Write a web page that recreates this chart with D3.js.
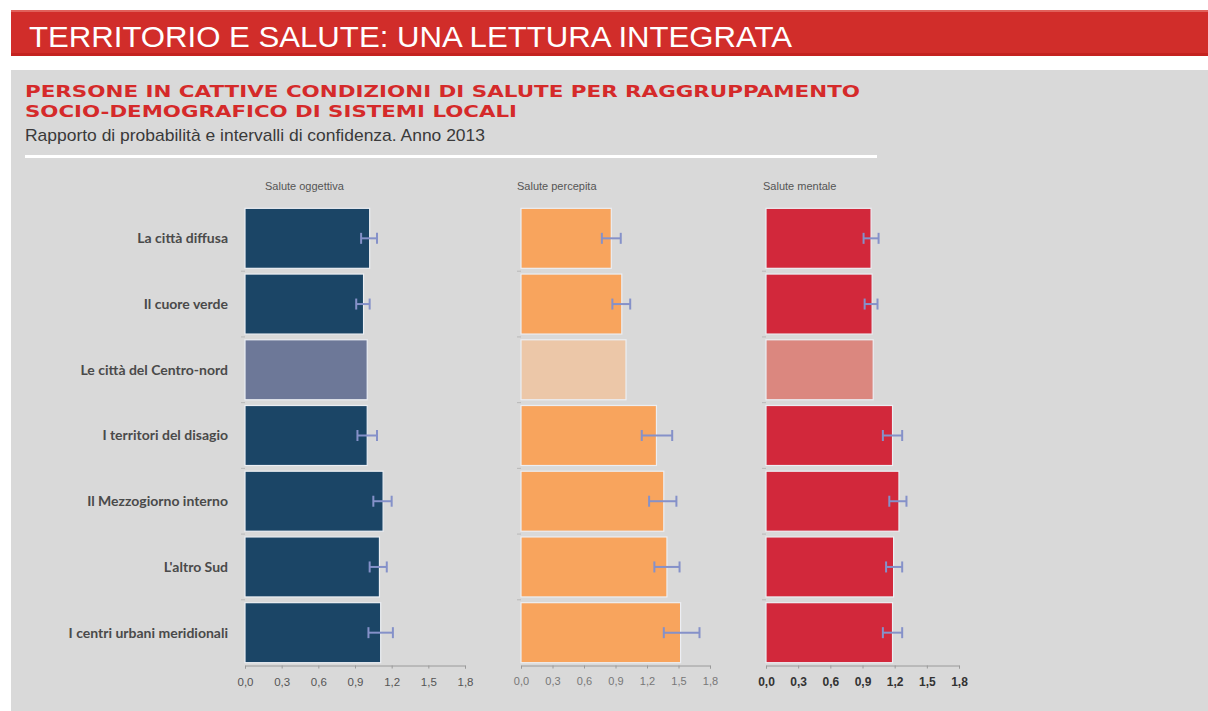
<!DOCTYPE html>
<html>
<head>
<meta charset="utf-8">
<script src="https://cdn.jsdelivr.net/npm/d3@7"></script>
<style>
  html, body { margin: 0; padding: 0; background: #ffffff; }
  svg { display: block; }
</style>
</head>
<body>
<svg id="chart" width="1208" height="711"></svg>
<script>
// ---------------- DATA ----------------
const categories = [
  "La città diffusa",
  "Il cuore verde",
  "Le città del Centro-nord",
  "I territori del disagio",
  "Il Mezzogiorno interno",
  "L'altro Sud",
  "I centri urbani meridionali"
];
const referenceIndex = 2; // "Le città del Centro-nord" = reference category (no interval)

const panelTitles = ["Salute oggettiva", "Salute percepita", "Salute mentale"];

const oggettiva     = [1.02, 0.97, 1.00, 1.00, 1.13, 1.10, 1.11];
const oggettivaLow  = [0.95, 0.91, null, 0.92, 1.05, 1.02, 1.01];
const oggettivaHigh = [1.08, 1.02, null, 1.08, 1.20, 1.16, 1.21];

const percepita     = [0.86, 0.96, 1.00, 1.29, 1.36, 1.39, 1.52];
const percepitaLow  = [0.77, 0.87, null, 1.15, 1.22, 1.27, 1.36];
const percepitaHigh = [0.95, 1.04, null, 1.44, 1.48, 1.51, 1.70];

const mentale       = [0.98, 0.99, 1.00, 1.18, 1.24, 1.19, 1.18];
const mentaleLow    = [0.91, 0.92, null, 1.09, 1.15, 1.12, 1.09];
const mentaleHigh   = [1.05, 1.04, null, 1.27, 1.31, 1.27, 1.27];

const tickValues = [0, 0.3, 0.6, 0.9, 1.2, 1.5, 1.8];

// ---------------- LAYOUT ----------------
const svg = d3.select("#chart");

// background areas
svg.append("rect").attr("x", 11).attr("y", 10).attr("width", 1197).attr("height", 46).attr("fill", "#d12d2a");
svg.append("rect").attr("x", 11).attr("y", 10).attr("width", 1197).attr("height", 2).attr("fill", "#e0605a");
svg.append("rect").attr("x", 11).attr("y", 53).attr("width", 1197).attr("height", 3).attr("fill", "#c4221f");
svg.append("rect").attr("x", 11).attr("y", 70).attr("width", 1197).attr("height", 641).attr("fill", "#d9d9d9");

svg.append("text")
  .attr("x", 29).attr("y", 46.5)
  .attr("textLength", 763).attr("lengthAdjust", "spacingAndGlyphs")
  .attr("font-family", "Liberation Sans, Arial, sans-serif")
  .attr("font-size", 30).attr("fill", "#ffffff")
  .text("TERRITORIO E SALUTE: UNA LETTURA INTEGRATA");

svg.append("text")
  .attr("x", 25).attr("y", 97)
  .attr("textLength", 835).attr("lengthAdjust", "spacingAndGlyphs")
  .attr("font-family", "DejaVu Sans, Liberation Sans, sans-serif").attr("font-weight", "bold")
  .attr("font-size", 16.5).attr("fill", "#d52a2a")
  .text("PERSONE IN CATTIVE CONDIZIONI DI SALUTE PER RAGGRUPPAMENTO");
svg.append("text")
  .attr("x", 25).attr("y", 116.5)
  .attr("textLength", 492).attr("lengthAdjust", "spacingAndGlyphs")
  .attr("font-family", "DejaVu Sans, Liberation Sans, sans-serif").attr("font-weight", "bold")
  .attr("font-size", 16.5).attr("fill", "#d52a2a")
  .text("SOCIO-DEMOGRAFICO DI SISTEMI LOCALI");
svg.append("text")
  .attr("x", 25).attr("y", 141)
  .attr("textLength", 460).attr("lengthAdjust", "spacingAndGlyphs")
  .attr("font-family", "Liberation Sans, Arial, sans-serif")
  .attr("font-size", 17).attr("fill", "#3a3a3a")
  .text("Rapporto di probabilità e intervalli di confidenza. Anno 2013");

svg.append("rect").attr("x", 25).attr("y", 155).attr("width", 852).attr("height", 3).attr("fill", "#ffffff");

// band scale
const y = d3.scaleBand()
  .domain(categories)
  .range([205.5, 665.5])
  .paddingInner(0.087)
  .paddingOuter(0.043);

// category labels
svg.append("g").selectAll("text")
  .data(categories).join("text")
  .attr("x", 228)
  .attr("y", d => y(d) + y.bandwidth() / 2)
  .attr("dy", "0.35em")
  .attr("text-anchor", "end")
  .attr("font-family", "Lato, 'Open Sans', sans-serif")
  .attr("font-weight", "bold")
  .attr("font-size", 14)
  .attr("fill", "#4a4a4a")
  .text(d => d);

// panels
const panels = [
  { title: panelTitles[0], values: oggettiva, low: oggettivaLow, high: oggettivaHigh,
    range: [245, 465], titleX: 265, color: "#1b4566", refColor: "#6d7898",
    tickColor: "#555555", tickWeight: "normal", tickSize: 11.5 },
  { title: panelTitles[1], values: percepita, low: percepitaLow, high: percepitaHigh,
    range: [521, 710], titleX: 517, color: "#f8a45d", refColor: "#ecc7a8",
    tickColor: "#777777", tickWeight: "normal", tickSize: 11 },
  { title: panelTitles[2], values: mentale, low: mentaleLow, high: mentaleHigh,
    range: [766, 959], titleX: 763, color: "#d2283b", refColor: "#db877f",
    tickColor: "#333333", tickWeight: "bold", tickSize: 12 }
];

const fmt = v => d3.format(".1f")(v).replace(".", ",");

panels.forEach(p => {
  const x = d3.scaleLinear().domain([0, 1.8]).range(p.range);
  const g = svg.append("g");

  g.append("text")
    .attr("x", p.titleX).attr("y", 190)
    .attr("font-family", "Liberation Sans, Arial, sans-serif")
    .attr("font-size", 11).attr("fill", "#555555")
    .text(p.title);

  // left small ticks at band boundaries
  g.selectAll("line.lt")
    .data(categories.slice(1)).join("line")
    .attr("class", "lt")
    .attr("x1", x(0) - 4).attr("x2", x(0))
    .attr("y1", d => y(d) - y.step() * y.paddingInner() / 2)
    .attr("y2", d => y(d) - y.step() * y.paddingInner() / 2)
    .attr("stroke", "#b8b8b8").attr("stroke-width", 1);

  // bars
  g.selectAll("rect.bar")
    .data(categories).join("rect")
    .attr("class", "bar")
    .attr("x", x(0))
    .attr("y", d => y(d))
    .attr("width", (d, i) => x(p.values[i]) - x(0))
    .attr("height", y.bandwidth())
    .attr("fill", (d, i) => i === referenceIndex ? p.refColor : p.color)
    .attr("stroke", "#eceef3").attr("stroke-width", 1.2);

  // error bars
  const eb = categories.map((c, i) => ({ c, lo: p.low[i], hi: p.high[i] })).filter(d => d.lo != null);
  const capH = 5.5;
  g.selectAll("line.eh").data(eb).join("line")
    .attr("class", "eh")
    .attr("x1", d => x(d.lo)).attr("x2", d => x(d.hi))
    .attr("y1", d => y(d.c) + y.bandwidth() / 2).attr("y2", d => y(d.c) + y.bandwidth() / 2)
    .attr("stroke", "#8591c9").attr("stroke-width", 2);
  g.selectAll("line.el").data(eb).join("line")
    .attr("class", "el")
    .attr("x1", d => x(d.lo)).attr("x2", d => x(d.lo))
    .attr("y1", d => y(d.c) + y.bandwidth() / 2 - capH).attr("y2", d => y(d.c) + y.bandwidth() / 2 + capH)
    .attr("stroke", "#8591c9").attr("stroke-width", 2);
  g.selectAll("line.eu").data(eb).join("line")
    .attr("class", "eu")
    .attr("x1", d => x(d.hi)).attr("x2", d => x(d.hi))
    .attr("y1", d => y(d.c) + y.bandwidth() / 2 - capH).attr("y2", d => y(d.c) + y.bandwidth() / 2 + capH)
    .attr("stroke", "#8591c9").attr("stroke-width", 2);

  // x axis
  const axis = d3.axisBottom(x).tickValues(tickValues).tickFormat(fmt).tickSize(3).tickPadding(9);
  const ag = g.append("g").attr("transform", `translate(0, 665.5)`).call(axis);
  ag.select(".domain").attr("stroke", "#9a9a9a");
  ag.selectAll(".tick line").attr("stroke", "#9a9a9a");
  ag.selectAll(".tick text")
    .attr("font-family", "Liberation Sans, Arial, sans-serif")
    .attr("font-size", p.tickSize)
    .attr("font-weight", p.tickWeight)
    .attr("fill", p.tickColor);
});
</script>
</body>
</html>
